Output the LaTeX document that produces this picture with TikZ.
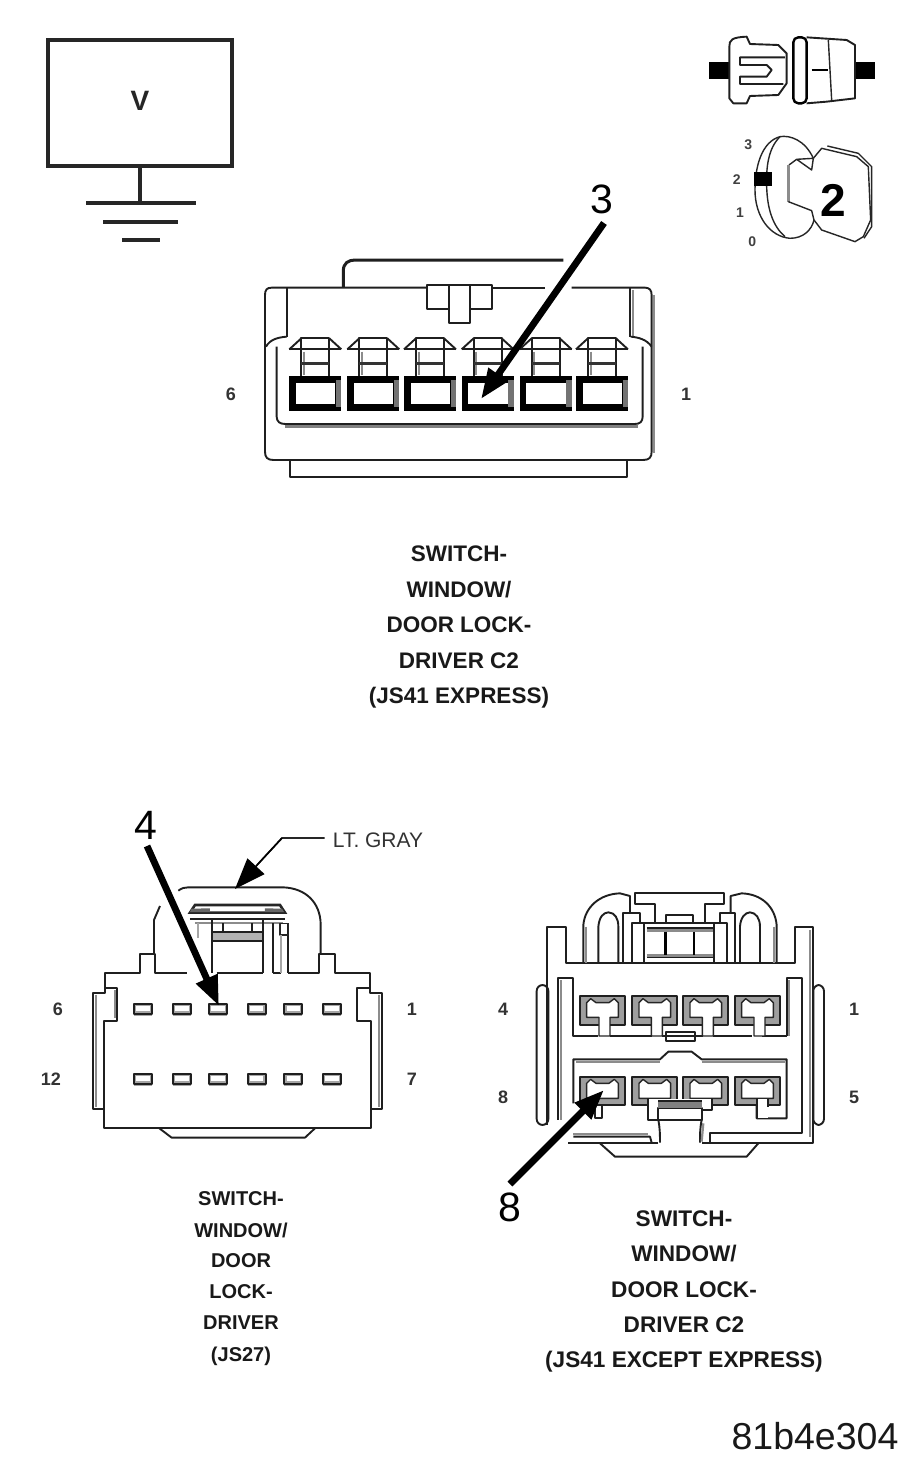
\documentclass[tikz,border=0pt]{standalone}
\usepackage{fontspec}
\setmainfont{Liberation Sans}
\usetikzlibrary{arrows.meta}
\tikzset{
  ln/.style={line width=1.9pt,draw=black!88,line join=round},
  thin ln/.style={line width=1.4pt,draw=black!85,line join=round},
  shade ln/.style={line width=2.2pt,draw=black!45},
  pointer/.style={line width=6.8pt,draw=black,-{Triangle[length=30pt,width=22pt]}},
  cap/.style={font=\bfseries\fontsize{#1}{#1}\selectfont,text=black!90,inner sep=0pt,anchor=center},
  pinlab/.style={font=\bfseries\fontsize{18}{18}\selectfont,text=black!80,inner sep=0pt},
  num/.style={font=\fontsize{41}{41}\selectfont,text=black,inner sep=0pt}
}
\begin{document}
\begin{tikzpicture}[x=1pt,y=-1pt]
\useasboundingbox (0,0) rectangle (917,1467);
\fill[white] (0,0) rectangle (917,1467);

% ---------- voltmeter
\node[draw=black!85,line width=3.4pt,minimum width=184pt,minimum height=126pt,inner sep=0pt] (vm) at (140,103) {};
\node[inner sep=0pt,font=\bfseries\fontsize{28}{28}\selectfont,text=black!85] (vlab) at (140,101) {V};
\coordinate (gnd) at (140,203);
\draw[line width=3.4pt,draw=black!85] (vm.south) -- (gnd);
\draw[line width=3.8pt,draw=black!85] (86,203) -- (196,203);
\draw[line width=3.8pt,draw=black!85] (103,222) -- (178,222);
\draw[line width=4.4pt,draw=black!85] (122,240) -- (160,240);

% ---------- ignition icons
\begin{scope}[shift={(690,20)},x=0.3333pt,y=-0.3333pt]
  \fill[black] (58,125) rectangle (118,178);
  \fill[black] (497,125) rectangle (555,178);
  \draw[ln] (118,80) .. controls (118,60) and (125,52) .. (170,50) -- (180,72) -- (265,75) -- (290,100) -- (290,190) -- (265,225) -- (180,228) -- (170,250) -- (130,250) -- (118,235) -- cycle;
  \draw[ln] (285,112) -- (150,112) -- (150,135) -- (230,135) -- (245,150) -- (230,170) -- (150,170) -- (150,192) -- (280,192);
  \draw[ln] (350,52) -- (470,60) -- (495,75) -- (495,235) -- (410,245) -- (350,250);
  \draw[line width=2.4pt,draw=black,rounded corners=5pt] (310,52) rectangle (350,250);
  \draw[thin ln] (415,60) -- (425,240);
  \draw[line width=2.6pt] (365,150) -- (415,150);
  % key
  \draw[thin ln] (370,415) .. controls (345,360) and (300,345) .. (270,350) .. controls (215,365) and (195,440) .. (195,510) .. controls (195,590) and (240,650) .. (300,655) .. controls (340,655) and (365,630) .. (372,600);
  \draw[thin ln] (270,350) .. controls (235,385) and (228,440) .. (230,500) .. controls (232,570) and (250,620) .. (285,650);
  \draw[thin ln] (370,415) -- (320,418) -- (297,435);
  \draw[thin ln] (320,418) -- (365,450) -- (370,415);
  \draw[line width=2.5pt,draw=black!45] (295,435) -- (295,545);
  \draw[thin ln] (295,545) -- (365,572) -- (372,600);
  \draw[thin ln] (370,415) -- (395,385) -- (500,410) -- (535,440) -- (542,600) -- (520,650) -- (495,665) -- (395,630) -- (372,600);
  \draw[thin ln] (412,378) -- (505,400) -- (545,440) -- (545,620) -- (522,655);
  \fill[black] (192,455) rectangle (247,497);
  \node[inner sep=0pt,font=\bfseries\fontsize{46}{46}\selectfont] (key2) at (429,540) {2};
  \node[inner sep=0pt,font=\bfseries\fontsize{14}{14}\selectfont,text=black!75] (k3) at (175,375) {3};
  \node[inner sep=0pt,font=\bfseries\fontsize{14}{14}\selectfont,text=black!75] (k2) at (140,478) {2};
  \node[inner sep=0pt,font=\bfseries\fontsize{14}{14}\selectfont,text=black!75] (k1) at (150,578) {1};
  \node[inner sep=0pt,font=\bfseries\fontsize{14}{14}\selectfont,text=black!75] (k0) at (187,664) {0};
\end{scope}

% ---------- connector C2 express
\begin{scope}[shift={(250,240)},x=0.3333pt,y=-0.3333pt]
  \draw[line width=3pt,draw=black!88] (280,143) -- (280,92) .. controls (280,70) and (295,60) .. (315,60) -- (940,60);
  \draw[ln] (885,143) -- (725,143);
  \draw[ln] (530,143) -- (65,143) .. controls (50,143) and (45,150) .. (45,165) -- (45,635) .. controls (45,652) and (52,660) .. (70,660) -- (1180,660) .. controls (1198,660) and (1205,652) .. (1205,635) -- (1205,165) .. controls (1205,150) and (1198,143) .. (1185,143) -- (965,143);
  \draw[shade ln] (1213,165) -- (1213,640);
  \draw[ln] (530,135) -- (725,135) -- (725,208) -- (660,208) -- (660,250) -- (597,250) -- (597,208) -- (530,208) -- cycle;
  \draw[ln] (597,135) -- (597,208) (660,135) -- (660,208);
  \draw[ln] (120,660) -- (120,712) -- (1130,712) -- (1130,660);
  \draw[ln] (112,143) -- (112,290);
  \draw[ln] (1140,143) -- (1140,290);
  \draw[shade ln] (1148,150) -- (1148,290);
  \draw[ln] (48,320) .. controls (60,298) and (85,292) .. (110,290);
  \draw[ln] (1205,320) .. controls (1190,298) and (1165,292) .. (1142,290);
  \draw[ln] (80,320) -- (80,530) .. controls (80,545) and (90,552) .. (105,552) -- (1155,552) .. controls (1170,552) and (1178,545) .. (1178,530) -- (1178,320);
  \draw[line width=3pt,draw=black!50] (105,560) -- (1165,560);
  \foreach \c in {196,370,540,713,887,1056}{
    \fill[black] (\c-78,408) rectangle (\c+78,514);
    \fill[black!55] (\c+62,420) rectangle (\c+78,500);
    \fill[white] (\c-58,430) rectangle (\c+60,492);
    \draw[ln] (\c-42,408) -- (\c-42,295) -- (\c+42,295) -- (\c+42,408);
    \draw[shade ln] (\c-34,335) -- (\c-34,405);
    \draw[ln] (\c-78,328) -- (\c+78,328);
    \draw[ln] (\c-42,295) -- (\c-78,328) (\c+42,295) -- (\c+78,328);
    \draw[line width=2.4pt,draw=black!80] (\c-42,370) -- (\c+42,370);
  }
\end{scope}
\node[pinlab] (c1six) at (231,394) {6};
\node[pinlab] (c1one) at (686,394) {1};
\node[num] (n3) at (602,199) {3};
\coordinate (n3tip) at (481,399);
\coordinate (n3start) at (604,223);
\draw[pointer] (n3start) -- (n3tip);
\node[cap=22.5] (t11) at (459,554) {SWITCH-};
\node[cap=22.5] (t12) at (459,590) {WINDOW/};
\node[cap=22.5] (t13) at (459,625) {DOOR LOCK-};
\node[cap=22.5] (t14) at (459,661) {DRIVER C2};
\node[cap=22.5] (t15) at (459,698) {(JS41 EXPRESS)};

% ---------- connector JS27
\begin{scope}[shift={(80,860)},x=0.3333pt,y=-0.3333pt]
  \draw[ln] (320,340) -- (225,340) -- (225,283) -- (180,283) -- (180,340) -- (75,340) -- (75,398) -- (40,398) -- (40,748) -- (72,748);
  \draw[ln] (75,385) -- (110,385) -- (110,482) -- (72,482) -- (72,805) -- (872,805) -- (872,482) -- (832,482) -- (832,385) -- (870,385);
  \draw[ln] (625,340) -- (718,340) -- (718,283) -- (765,283) -- (765,340) -- (870,340) -- (870,398) -- (905,398) -- (905,748) -- (872,748);
  \draw[shade ln] (48,405) -- (48,740);
  \draw[shade ln] (898,405) -- (898,740);
  \draw[shade ln] (105,390) -- (105,475);
  \draw[ln] (238,805) -- (275,833) -- (675,833) -- (705,805);
  \draw[ln] (410,340) -- (550,340);
  \draw[ln] (222,283) -- (222,180) -- (240,138);
  \draw[ln] (295,92) .. controls (305,84) and (315,82) .. (325,82) -- (610,82) .. controls (680,85) and (720,130) .. (722,190) -- (722,283);
  \draw[line width=2.6pt,draw=black!85] (330,158) -- (345,135) -- (600,135) -- (615,158) -- cycle;
  \fill[black!60] (390,145) -- (390,156) -- (330,156) -- (335,146) -- cycle;
  \fill[black!60] (555,145) -- (555,156) -- (612,156) -- (606,146) -- cycle;
  \draw[ln] (330,178) -- (615,178);
  \draw[shade ln] (345,190) -- (610,190);
  \draw[ln] (395,178) -- (395,340) (550,178) -- (550,340);
  \fill[black!30] (400,220) rectangle (545,240);
  \draw[ln] (395,215) -- (550,215) (430,190) -- (430,215) (515,190) -- (515,215) (395,242) -- (550,242);
  \draw[ln] (580,190) -- (580,340) (625,190) -- (625,340) (580,340) -- (602,340);
  \draw[thin ln] (600,190) rectangle (625,225);
  \draw[line width=2pt,draw=black!35] (602,225) -- (602,340);
  \draw[line width=2pt,draw=black!35] (355,190) -- (355,235);
  \foreach \c in {189,306,414,530,640,756}{
    \foreach \r in {447,658}{
      \fill[black!35] (\c-27,\r-17) rectangle (\c+27,\r+20);
      \fill[white] (\c-20,\r-9) rectangle (\c+20,\r+6);
      \draw[ln] (\c-27,\r-16) rectangle (\c+27,\r+14);
    }
  }
\end{scope}
\node[pinlab] (c2six) at (58,1009) {6};
\node[pinlab] (c2one) at (412,1009) {1};
\node[pinlab] (c2twelve) at (51,1079) {12};
\node[pinlab] (c2seven) at (412,1079) {7};
\node[num] (n4) at (146,825) {4};
\coordinate (n4start) at (147,846);
\coordinate (n4tip) at (219,1006);
\draw[pointer] (n4start) -- (n4tip);
\node[inner sep=0pt,font=\fontsize{21}{21}\selectfont,text=black!80] (ltgray) at (378,840) {LT. GRAY};
\coordinate (ltbend) at (282,838);
\coordinate (lttip) at (235,889);
\draw[line width=1.6pt,draw=black!85] (ltgray.west) ++(-8,-2) -- (ltbend) -- (257,865);
\draw[line width=1.6pt,draw=black,-{Triangle[length=31pt,width=23pt]}] (ltbend) -- (lttip);
\node[cap=20] (t21) at (241,1199) {SWITCH-};
\node[cap=20] (t22) at (241,1230) {WINDOW/};
\node[cap=20] (t23) at (241,1261) {DOOR};
\node[cap=20] (t24) at (241,1292) {LOCK-};
\node[cap=20] (t25) at (241,1323) {DRIVER};
\node[cap=20] (t26) at (241,1356) {(JS27)};

% ---------- connector JS41 except express
\begin{scope}[shift={(520,880)},x=0.3333pt,y=-0.3333pt]
  % housing
  \draw[ln] (80,735) -- (80,140) -- (138,140) -- (138,248) -- (825,248) -- (825,140) -- (878,140) -- (878,790) -- (545,790);
  \draw[ln] (415,790) -- (145,790);
  \draw[shade ln] (870,150) -- (870,770);
  \draw[line width=1.9pt,draw=black!88,rounded corners=6pt] (50,315) rectangle (85,735);
  \draw[line width=1.9pt,draw=black!88,rounded corners=6pt] (880,315) rectangle (912,735);
  \draw[ln] (240,790) -- (285,830) -- (680,830) -- (715,790);
  % upper cavity frame
  \draw[ln] (115,720) -- (115,295) -- (160,295) -- (160,468) -- (235,468);
  \draw[shade ln] (123,300) -- (123,720);
  \draw[ln] (800,468) -- (800,295) -- (845,295) -- (845,760) -- (570,760) -- (570,785);
  \draw[shade ln] (808,300) -- (808,468);
  \draw[ln] (800,468) -- (725,468);
  \draw[ln] (270,468) -- (395,468) (425,468) -- (550,468) (580,468) -- (695,468);
  \draw[ln] (437,456) rectangle (525,482);
  % lower cavity frame
  \draw[ln] (160,670) -- (160,538) -- (420,538) -- (445,515) -- (515,515) -- (545,538) -- (800,538) -- (800,715) -- (710,715) -- (710,670);
  \draw[shade ln] (168,545) -- (420,545);
  \draw[shade ln] (545,545) -- (795,545);
  \draw[ln] (160,770) -- (390,770) -- (395,788);
  \draw[shade ln] (160,762) -- (385,762);
  \draw[ln] (415,720) .. controls (420,745) and (420,765) .. (420,788);
  \draw[ln] (545,720) .. controls (540,745) and (540,765) .. (540,788);
  \draw[shade ln] (550,730) -- (545,785);
  % upper terminals
  \foreach \a in {180,337,490,645}{
    \fill[black!38] (\a,348) rectangle (\a+135,436);
    \draw[ln] (\a,348) rectangle (\a+135,436);
    \draw[thin ln,fill=white] (\a+20,368) -- (\a+32,356) -- (\a+48,368) -- (\a+87,368) -- (\a+103,356) -- (\a+115,368) -- (\a+115,412) -- (\a+90,412) -- (\a+90,468) -- (\a+57,468) -- (\a+57,412) -- (\a+20,412) -- cycle;
  }
  % lower terminals
  \foreach \a in {180,337,490,645}{
    \fill[black!38] (\a,590) rectangle (\a+135,676);
    \draw[ln] (\a,590) rectangle (\a+135,676);
    \draw[thin ln,fill=white] (\a+20,610) -- (\a+32,598) -- (\a+48,610) -- (\a+87,610) -- (\a+103,598) -- (\a+115,610) -- (\a+115,655) -- (\a+20,655) -- cycle;
  }
  \fill[white] (387,657) rectangle (573,690);
  \fill[white] (387,690) rectangle (415,718);
  \draw[ln] (385,655) -- (385,720) -- (545,720);
  \draw[ln] (575,655) -- (575,690) -- (545,690);
  \draw[ln] (415,685) rectangle (545,720);
  \fill[black!50] (415,665) rectangle (545,683);
  \draw[ln] (415,663) -- (545,663);
  \fill[white] (712,657) rectangle (745,713);
  \draw[ln] (710,655) -- (710,715) (745,657) -- (745,680);
  \draw[ln,fill=white] (225,676) rectangle (245,715);
  % top mechanism
  \draw[ln] (190,248) -- (190,135) .. controls (195,80) and (240,42) .. (300,40) -- (330,48) -- (330,100);
  \draw[ln] (235,248) -- (235,140) .. controls (238,110) and (250,98) .. (265,97) .. controls (285,98) and (295,115) .. (295,140) -- (295,248);
  \draw[ln] (770,248) -- (770,135) .. controls (765,80) and (725,42) .. (665,40) -- (632,48) -- (632,100);
  \draw[ln] (660,248) -- (660,140) .. controls (662,112) and (675,98) .. (690,97) .. controls (708,98) and (720,115) .. (720,140) -- (720,248);
  \draw[shade ln] (198,140) -- (198,248);
  \draw[shade ln] (762,140) -- (762,248);
  \draw[ln] (405,130) -- (405,72) -- (345,72) -- (345,40) -- (612,40) -- (612,72) -- (555,72) -- (555,130);
  \draw[ln] (437,130) -- (437,105) -- (520,105) -- (520,130);
  \draw[ln] (310,248) -- (310,100) -- (360,100) -- (360,130);
  \draw[ln] (645,248) -- (645,100) -- (600,100) -- (600,130);
  \draw[ln] (335,248) -- (335,130) -- (620,130) -- (620,248);
  \draw[ln] (372,130) -- (372,248) (582,130) -- (582,248);
  \draw[ln] (380,145) -- (580,145);
  \draw[line width=3pt,draw=black!45] (380,152) -- (580,152);
  \draw[ln] (380,232) -- (580,232);
  \draw[line width=3pt,draw=black!45] (380,225) -- (580,225);
  \draw[line width=2.4pt] (437,155) -- (437,225) (522,155) -- (522,225);
\end{scope}
\node[pinlab] (c3four) at (503,1009) {4};
\node[pinlab] (c3one) at (854,1009) {1};
\node[pinlab] (c3eight) at (503,1097) {8};
\node[pinlab] (c3five) at (854,1097) {5};
\node[num] (n8) at (510,1207) {8};
\coordinate (n8start) at (510,1184);
\coordinate (n8tip) at (604,1090);
\draw[pointer] (n8start) -- (n8tip);
\node[cap=22.6] (t31) at (684,1219) {SWITCH-};
\node[cap=22.6] (t32) at (684,1254) {WINDOW/};
\node[cap=22.6] (t33) at (684,1290) {DOOR LOCK-};
\node[cap=22.6] (t34) at (684,1325) {DRIVER C2};
\node[cap=22.6] (t35) at (684,1362) {(JS41 EXCEPT EXPRESS)};

\node[inner sep=0pt,font=\fontsize{37.5}{37.5}\selectfont,text=black!90] (fig) at (815,1436) {81b4e304};
\end{tikzpicture}
\end{document}
